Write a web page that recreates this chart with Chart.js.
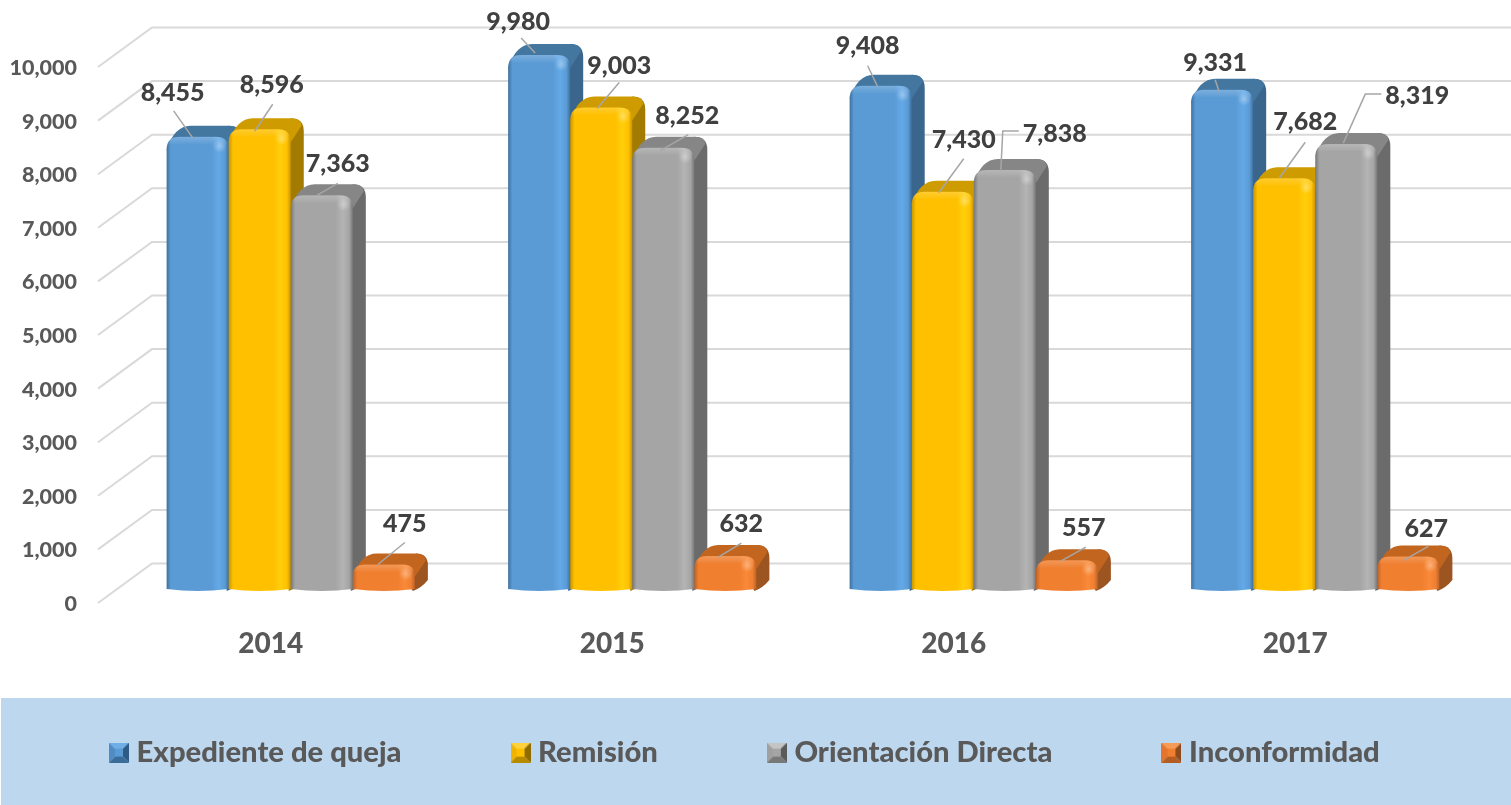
<!DOCTYPE html>
<html>
<head>
<meta charset="utf-8">
<style>html,body{margin:0;padding:0;background:#fff}#w{position:relative;width:1511px;height:805px}canvas{display:block}</style>
<script src="https://cdn.jsdelivr.net/npm/chart.js@4"></script>
</head>
<body>
<div id="w"><canvas id="c" width="1511" height="805"></canvas></div>
<script>
const categories = ['2014', '2015', '2016', '2017'];
const seriesNames = ['Expediente de queja', 'Remisión', 'Orientación Directa', 'Inconformidad'];
const expediente = [8455, 9980, 9408, 9331];
const remision = [8596, 9003, 7430, 7682];
const orientacion = [7363, 8252, 7838, 8319];
const inconformidad = [475, 632, 557, 627];

const palette = [
  {front:'#5B9BD5', light:'#63A9E8', dark:'#3E719E', top:'#44779F', side:'#3A658C', sw:['#6FAEE6','#4F8CC4','#2E5B85','#3A6C9A']},
  {front:'#FFC000', light:'#FFCF0A', dark:'#C79500', top:'#CE9C00', side:'#A27B00', sw:['#FFD23C','#F0B400','#8F6C00','#B78B00']},
  {front:'#A5A5A5', light:'#B4B4B4', dark:'#777777', top:'#868686', side:'#6B6B6B', sw:['#C4C4C4','#A0A0A0','#5A5A5A','#787878']},
  {front:'#F07F30', light:'#F98A38', dark:'#B9622A', top:'#C2651F', side:'#9C5420', sw:['#F79A58','#E5752A','#8F4A1B','#B45D22']}
];

// depth of the pseudo-3D projection
const DEPTH_FLOOR = {x: 52, y: -40.5};
const BAR_SHIFT = {x: 20, y: -13};
const BAR_DEPTH = {x: 13, y: -11};

// label centre relative to the bar's front top, by series then year
const labelNudge = [
  [[-25,-45],[-21,-34],[-13,-41],[-7,-28]],
  [[12,-45],[18,-43],[21,-53],[21,-57]],
  [[16,-32],[24,-33],[50,-37],[71,-49]],
  [[21,-42],[16,-33],[17,-33],[18,-28]]
];
// leader polyline relative to the bar's front top
const leaderNudge = [
  [[[-24,-27],[-5,0]],[[-18,-18],[-4,-3]],[[-13,-21],[-3,0]],[[-7,-11],[-3,1]]],
  [[[13,-26],[-5,1]],[[18,-26],[-4,0]],[[21,-34],[-4,0]],[[21,-37],[-5,-1]]],
  [[[16,-13],[-5,-1]],[[25,-14],[-3,2]],[[14,-40],[-2,-40],[-4,0]],[[35,-51],[19,-51],[-3,-2]]],
  [[[21,-23],[-6,-1]],[[16,-14],[-7,0]],[[19,-14],[-6,0]],[[20,-11],[-5,3]]]
];

function swatch(c){
  const s=document.createElement('canvas');s.width=20;s.height=20;
  const g=s.getContext('2d');
  const tri=(col,a,b)=>{g.fillStyle=col;g.beginPath();g.moveTo(10,10);g.lineTo(a[0],a[1]);g.lineTo(b[0],b[1]);g.closePath();g.fill();};
  tri(c.sw[0],[0,0],[20,0]);tri(c.sw[1],[0,0],[0,20]);tri(c.sw[2],[20,0],[20,20]);tri(c.sw[3],[0,20],[20,20]);
  g.fillStyle=c.front;g.fillRect(6,6,8,8);
  return s;
}
const swatches = palette.map(swatch);

function drawBar3D(ctx, el, c){
  const w=el.width, cx=el.x+BAR_SHIFT.x, yT=el.y+BAR_SHIFT.y-1, base=el.base+BAR_SHIFT.y;
  const x0=cx-w/2, x1=cx+w/2, dx=BAR_DEPTH.x, dy=BAR_DEPTH.y;
  const h=base-yT, r=Math.min(13,h*0.45);
  // side + top silhouette
  ctx.fillStyle=c.side;
  ctx.beginPath();
  ctx.moveTo(x1-2,base);
  ctx.quadraticCurveTo(x1+dx*0.5,base-3,x1+dx,base+dy);
  ctx.lineTo(x1+dx,yT+dy+r);
  ctx.quadraticCurveTo(x1+dx,yT+dy,x1+dx-r,yT+dy);
  ctx.lineTo(x1-r,yT+r);
  ctx.closePath();ctx.fill();
  // top face
  ctx.fillStyle=c.top;
  ctx.beginPath();
  ctx.moveTo(x0,yT+r);
  ctx.quadraticCurveTo(x0+dx*0.6,yT+dy,x0+dx+11,yT+dy);
  ctx.lineTo(x1+dx-r,yT+dy);
  ctx.quadraticCurveTo(x1+dx-3,yT+dy,x1+dx-2,yT+dy+7);
  ctx.lineTo(x1,yT+r);
  ctx.closePath();ctx.fill();
  // front face
  const g=ctx.createLinearGradient(x0,0,x1,0);
  g.addColorStop(0,c.dark);g.addColorStop(0.07,c.front);g.addColorStop(0.72,c.front);
  g.addColorStop(0.84,c.light);g.addColorStop(0.94,c.front);g.addColorStop(1,c.dark);
  ctx.fillStyle=g;
  ctx.beginPath();
  ctx.moveTo(x0,base-2);
  ctx.lineTo(x0,yT+r);
  ctx.quadraticCurveTo(x0,yT,x0+r,yT);
  ctx.lineTo(x1-r,yT);
  ctx.quadraticCurveTo(x1,yT,x1,yT+r);
  ctx.lineTo(x1,base-2);
  ctx.quadraticCurveTo(cx,base+2,x0,base-2);
  ctx.closePath();ctx.fill();
  // rounded upper edge highlight
  ctx.save();ctx.clip();
  const t=ctx.createLinearGradient(0,yT,0,yT+Math.min(8,h*0.3));
  t.addColorStop(0,'rgba(255,255,255,0.2)');t.addColorStop(1,'rgba(255,255,255,0)');
  ctx.fillStyle=t;ctx.fillRect(x0,yT,w,10);
  const s=ctx.createRadialGradient(x1-9,yT+9,0,x1-9,yT+9,7);
  s.addColorStop(0,'rgba(255,255,255,0.35)');s.addColorStop(1,'rgba(255,255,255,0)');
  ctx.fillStyle=s;ctx.fillRect(x1-18,yT,18,18);
  ctx.restore();
}

const bars3D = {
  id:'bars3D',
  beforeDraw(chart){
    const ctx=chart.ctx;
    ctx.save();ctx.fillStyle='#FFFFFF';ctx.fillRect(0,0,chart.width,chart.height);
    ctx.fillStyle='#BDD7EE';ctx.fillRect(1,698,chart.width-1,107);ctx.restore();
    // floor diagonals and back-wall gridlines follow the value axis
    const y=chart.scales.y, a=chart.chartArea;
    ctx.save();ctx.strokeStyle='#D9D9D9';ctx.lineWidth=2;ctx.beginPath();
    y.ticks.forEach(t=>{
      const p=y.getPixelForValue(t.value);
      ctx.moveTo(a.left-2,p-1);ctx.lineTo(a.left+DEPTH_FLOOR.x,p+DEPTH_FLOOR.y);
      ctx.lineTo(a.right+DEPTH_FLOOR.x,p+DEPTH_FLOOR.y);
    });
    ctx.stroke();ctx.restore();
  },
  beforeDatasetsDraw(chart){
    const ctx=chart.ctx;
    const metas=chart.data.datasets.map((d,i)=>chart.getDatasetMeta(i));
    categories.forEach((_,j)=>{
      metas.forEach((m,i)=>drawBar3D(ctx,m.data[j],palette[i]));
    });
    // leaders then labels
    ctx.save();
    ctx.strokeStyle='#A6A6A6';ctx.lineWidth=1.5;
    metas.forEach((m,i)=>m.data.forEach((el,j)=>{
      const cx=el.x+BAR_SHIFT.x, yT=el.y+BAR_SHIFT.y;
      ctx.beginPath();
      leaderNudge[i][j].forEach((p,k)=>k?ctx.lineTo(cx+p[0],yT+p[1]):ctx.moveTo(cx+p[0],yT+p[1]));
      ctx.stroke();
    }));
    ctx.fillStyle='#404040';ctx.font='900 25px Lato';ctx.textAlign='center';ctx.textBaseline='middle';
    metas.forEach((m,i)=>m.data.forEach((el,j)=>{
      const v=chart.data.datasets[i].data[j];
      const cx=el.x+BAR_SHIFT.x, yT=el.y+BAR_SHIFT.y;
      ctx.fillText(v.toLocaleString('en-US'),cx+labelNudge[i][j][0],yT+labelNudge[i][j][1]);
    }));
    ctx.restore();
    return false;
  },
  afterLayout(chart){
    // legend row sits inside the pale band
    const l=chart.legend, pad=l.options.labels.padding;
    l.top=738-pad;
  }
};

new Chart(document.getElementById('c'),{
  type:'bar',
  data:{labels:categories,datasets:[
    {label:seriesNames[0],data:expediente,backgroundColor:palette[0].front},
    {label:seriesNames[1],data:remision,backgroundColor:palette[1].front},
    {label:seriesNames[2],data:orientacion,backgroundColor:palette[2].front},
    {label:seriesNames[3],data:inconformidad,backgroundColor:palette[3].front}
  ]},
  plugins:[bars3D],
  options:{
    responsive:false,animation:false,
    layout:{padding:{top:68,bottom:0,left:0,right:0}},
    datasets:{bar:{categoryPercentage:0.727,barPercentage:1}},
    scales:{
      x:{
        grid:{display:false},border:{display:false},
        ticks:{color:'#595959',font:{family:'Lato',weight:'900',size:28},padding:15,maxRotation:0},
        afterFit(s){s.height=101;}
      },
      y:{
        min:0,max:10000,
        grid:{display:false},border:{display:false},
        ticks:{stepSize:1000,color:'#595959',font:{family:'Lato',weight:'900',size:21.5},padding:15,
          callback:v=>v.toLocaleString('en-US')},
        afterFit(s){s.width=100;}
      },
      yEdge:{
        position:'right',display:true,min:0,max:1,
        grid:{display:false},border:{display:false},ticks:{display:false},
        afterFit(s){s.width=45;}
      }
    },
    plugins:{
      tooltip:{enabled:false},
      legend:{
        position:'bottom',align:'start',maxHeight:100,
        labels:{
          color:'#595959',font:{family:'Lato',weight:'900',size:29.2},
          usePointStyle:true,pointStyleWidth:6,padding:116,
          generateLabels(chart){
            return chart.data.datasets.map((d,i)=>({
              text:d.label,fillStyle:d.backgroundColor,strokeStyle:d.backgroundColor,lineWidth:0,
              pointStyle:swatches[i],datasetIndex:i,hidden:false,fontColor:'#595959'
            }));
          }
        }
      }
    }
  }
});
</script>
</body>
</html>
